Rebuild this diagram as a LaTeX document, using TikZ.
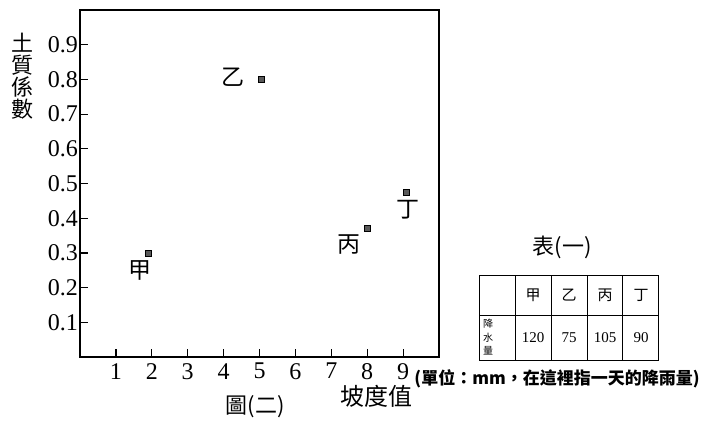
\documentclass[tikz,border=0pt]{standalone}
\usepackage{fontspec}
\setmainfont{Liberation Serif}
\newfontfamily\cjk{Noto Sans CJK TC}
\begin{document}
\begin{tikzpicture}[
      x=1pt, y={(0pt,-1pt)},
      % the texts:
      every node/.style={inner sep=1pt},
      ticklabel/.style={font=\fontsize{24}{24}\selectfont},
      cjklabel/.style={font=\cjk\fontsize{22}{22}\selectfont},
      ptlabel/.style={font=\cjk\fontsize{23}{23}\selectfont},
      cellhead/.style={font=\cjk\fontsize{15}{15}\selectfont},
      cellval/.style={font=\fontsize{15}{15}\selectfont},
      % the marks:
      datapt/.style={draw, fill=black!65, line width=.8pt, shape=rectangle, minimum size=6pt, inner sep=0pt},
      axisline/.style={line width=1.2pt},
      tablebox/.style={line width=1pt}
  ]
  \useasboundingbox (0,0) rectangle (701,425);

  %%%%%%%%%%%%%%%%%%%%%%%%%%%%%%%%%%%%%%%%%%%%%%%%%%%%%%%%
  % (1) THE PLOT => frame, ticks and the four points
  %%%%%%%%%%%%%%%%%%%%%%%%%%%%%%%%%%%%%%%%%%%%%%%%%%%%%%%%
  % origin at (80,357), one x step = 35.9pt, 0.1 in y = 34.7pt
  \begin{scope}[shift={(80,357)}, x=35.9pt, y=347pt]
    \draw[axisline] (0,0) rectangle (10,1);

    \foreach \t in {1,...,9} {
      \draw[axisline] (\t,0) -- ++(0pt,8pt);
      \node[ticklabel, anchor=north] (xt\t) at ([yshift=-5pt]\t,0) {\t};
    }
    \foreach \t in {1,...,9} {
      \draw[axisline] (0,0.\t) -- ++(8pt,0pt);
      \node[ticklabel, anchor=east] (yt\t) at ([xshift=-1pt]0,0.\t) {0.\t};
    }

    % points and their names
    \node[datapt] (pJia)  at (1.9,0.30)  {};
    \node[datapt] (pYi)   at (5.05,0.80) {};
    \node[datapt] (pBing) at (8.0,0.37)  {};
    \node[datapt] (pDing) at (9.1,0.475) {};

    \node[ptlabel] (lJia)  at (1.68,0.25)  {甲};
    \node[ptlabel] (lYi)   at (4.26,0.805) {乙};
    \node[ptlabel] (lBing) at (7.48,0.325) {丙};
    \node[ptlabel] (lDing) at (9.15,0.425) {丁};
  \end{scope}

  % axis names, the y one stacked
  \node[cjklabel, align=center] (yname) at (23,76) {土\\質\\係\\數};
  \node[font=\cjk\fontsize{24}{24}\selectfont] (xname) at (376,396) {坡度值};
  \node[cjklabel] (figname) at (255,407) {圖(二)};

  %%%%%%%%%%%%%%%%%%%%%%%%%%%%%%%%%%%%%%%%%%%%%%%%%%%%%%%%
  % (2) THE TABLE => rainfall of each place
  %%%%%%%%%%%%%%%%%%%%%%%%%%%%%%%%%%%%%%%%%%%%%%%%%%%%%%%%
  \node[cjklabel] (tabname) at (562,247) {表(一)};

  \draw[tablebox] (479,275) rectangle (658,360);
  \draw[tablebox] (479,315) -- (658,315);
  \foreach \cx in {515,551,587,622}
    \draw[tablebox] (\cx,275) -- (\cx,360);

  \node[font=\cjk\fontsize{10}{13.5}\selectfont, align=center] (rain) at (488,337.5) {降\\水\\量};
  \foreach \nm/\val [count=\i] in {甲/120,乙/75,丙/105,丁/90} {
    \node[cellhead] (h\i) at ({479+36*\i+18},295) {\nm};
    \node[cellval]  (v\i) at ({479+36*\i+18},337.5) {\val};
  }

  % unit note under the table
  \node[font=\cjk\bfseries\fontsize{17}{17}\selectfont] (unitnote) at (557,379) {(單位：mm，在這裡指一天的降雨量)};

\end{tikzpicture}
\end{document}
